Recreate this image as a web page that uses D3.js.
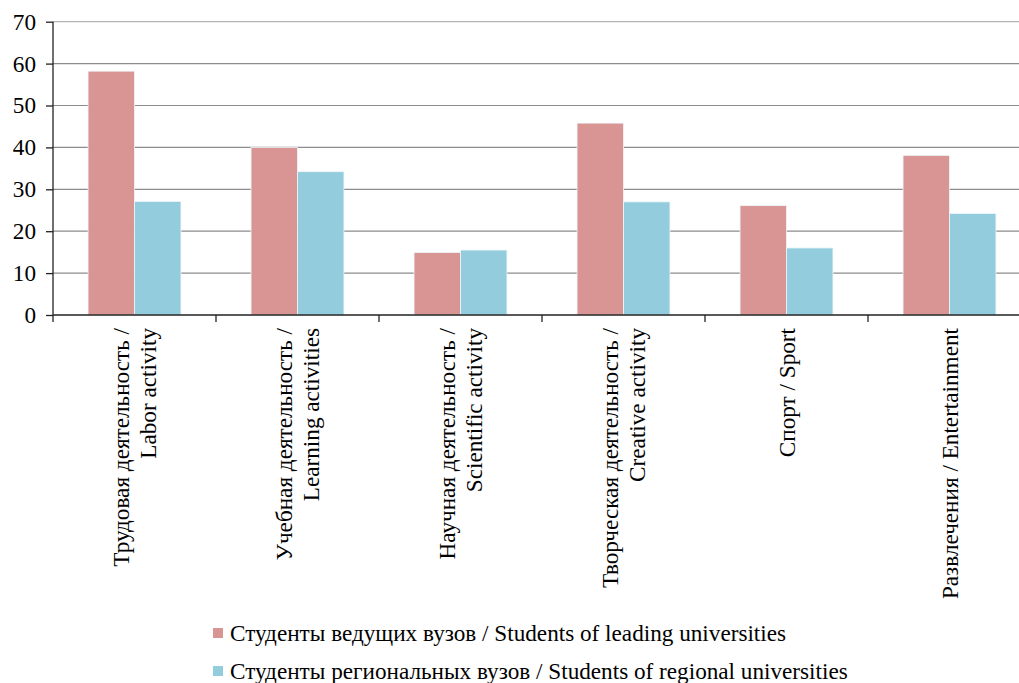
<!DOCTYPE html>
<html>
<head>
<meta charset="utf-8">
<script src="https://cdn.jsdelivr.net/npm/d3@7"></script>
<style>
  html, body { margin: 0; padding: 0; background: #fff; }
  svg { display: block; }
</style>
</head>
<body>
<svg id="chart" width="1019" height="683" font-family="Liberation Serif"></svg>
<script>
// ── DATA ──────────────────────────────────────────────────────────────────────
const categories = [
  ['Трудовая деятельность /', 'Labor activity'],
  ['Учебная деятельность /', 'Learning activities'],
  ['Научная деятельность /', 'Scientific activity'],
  ['Творческая деятельность /', 'Creative activity'],
  ['Спорт / Sport'],
  ['Развлечения / Entertainment']
];
const seriesNames = [
  'Студенты ведущих вузов / Students of leading universities',
  'Студенты региональных вузов / Students of regional universities'
];
const leadingValues  = [58.2, 40.0, 14.9, 45.8, 26.1, 38.1];
const regionalValues = [27.1, 34.2, 15.5, 27.0, 16.0, 24.2];
const yTicks = [0, 10, 20, 30, 40, 50, 60, 70];
const colors = ['#d99594', '#93cddd'];

const FONT = 'Liberation Serif';
const FS = 23.2;

// ── SCALES ────────────────────────────────────────────────────────────────────
const svg = d3.select('#chart');
const W = 1019;
const plot = { left: 53, right: 1031, top: 21.7, bottom: 315 };

const catKeys = categories.map((c, i) => i);
const x = d3.scaleBand().domain(catKeys).range([plot.left, plot.right]).padding(0);
const bw = x.bandwidth();
const xSub = d3.scaleBand().domain([0, 1]).range([bw * 0.215, bw * 0.785]).padding(0);
const y = d3.scaleLinear().domain([0, 70]).range([plot.bottom, plot.top]);

// ── GRID ──────────────────────────────────────────────────────────────────────
svg.append('g')
  .selectAll('line')
  .data(yTicks.filter(d => d > 0))
  .join('line')
  .attr('x1', plot.left).attr('x2', W)
  .attr('y1', d => y(d)).attr('y2', d => y(d))
  .attr('stroke', d => d === 70 ? '#b4b4b4' : '#8c8c8c')
  .attr('stroke-width', 1.2);

// ── BARS ──────────────────────────────────────────────────────────────────────
const seriesValues = [leadingValues, regionalValues];
seriesValues.forEach((vals, s) => {
  svg.append('g')
    .selectAll('rect')
    .data(vals)
    .join('rect')
    .attr('x', (d, i) => x(i) + xSub(s))
    .attr('width', xSub.bandwidth())
    .attr('y', d => y(d))
    .attr('height', d => y(0) - y(d))
    .attr('fill', colors[s])
    .attr('stroke', '#eef6f8')
    .attr('stroke-width', 0.8);
});

// ── AXES ──────────────────────────────────────────────────────────────────────
const yAxis = svg.append('g')
  .attr('transform', `translate(${plot.left},0)`)
  .call(d3.axisLeft(y).tickValues(yTicks).tickSize(7).tickPadding(10))
  .attr('font-family', FONT)
  .attr('font-size', FS);
yAxis.select('.domain').attr('stroke', '#222').attr('stroke-width', 1.3)
  .attr('d', `M0,${plot.top}V${plot.bottom + 7}`);
yAxis.selectAll('.tick line').attr('stroke', '#222').attr('stroke-width', 1.3);
yAxis.selectAll('.tick text')
  .attr('font-family', FONT)
  .attr('font-size', FS)
  .attr('fill', '#000');

// x baseline and category ticks
svg.append('line')
  .attr('x1', plot.left).attr('x2', W)
  .attr('y1', y(0)).attr('y2', y(0))
  .attr('stroke', '#222').attr('stroke-width', 1.3);

svg.append('g')
  .selectAll('line')
  .data(catKeys.slice(1))
  .join('line')
  .attr('x1', d => x(d)).attr('x2', d => x(d))
  .attr('y1', y(0)).attr('y2', y(0) + 7)
  .attr('stroke', '#222').attr('stroke-width', 1.3);

// rotated category labels
const labelTop = 328;
const lineGap = 27;
const labels = svg.append('g')
  .attr('font-family', FONT)
  .attr('font-size', FS)
  .selectAll('g')
  .data(categories)
  .join('g')
  .attr('transform', (d, i) => `translate(${x(i) + bw / 2},${labelTop}) rotate(-90)`);

labels.each(function(lines) {
  const g = d3.select(this);
  const n = lines.length;
  lines.forEach((t, k) => {
    const offset = (k - (n - 1) / 2) * lineGap;
    g.append('text')
      .attr('x', 0)
      .attr('y', offset)
      .attr('dy', '0.35em')
      .attr('text-anchor', 'end')
      .text(t);
  });
});

// ── LEGEND ────────────────────────────────────────────────────────────────────
const legend = svg.append('g')
  .attr('font-family', FONT)
  .attr('font-size', FS)
  .selectAll('g')
  .data(seriesNames)
  .join('g')
  .attr('transform', (d, i) => `translate(213,${633 + i * 38})`);

legend.append('rect')
  .attr('x', 0).attr('y', -5)
  .attr('width', 10).attr('height', 10)
  .attr('fill', (d, i) => colors[i]);

legend.append('text')
  .attr('x', 17)
  .attr('y', 0)
  .attr('dy', '0.35em')
  .text(d => d);
</script>
</body>
</html>
